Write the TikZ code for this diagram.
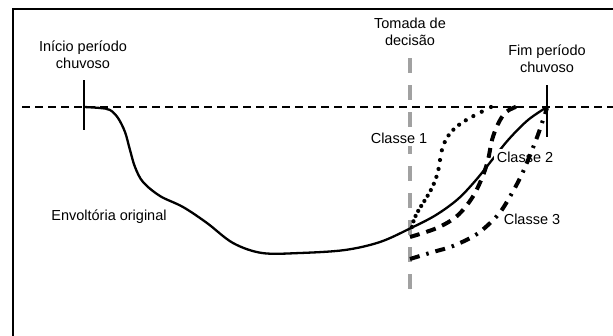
\documentclass[tikz,border=0pt]{standalone}
\usepackage{fontspec}
\setmainfont{Liberation Sans}
\begin{document}
\begin{tikzpicture}[x=1pt,y=-1pt,
  lbl/.style={font=\fontsize{14.5}{17}\selectfont, align=center, inner sep=1pt},
  lblw/.style={lbl, fill=white, inner sep=3pt},
  frameline/.style={line width=2.2pt},
  tick/.style={line width=1.8pt},
  level/.style={line width=1.7pt, dash pattern=on 8pt off 5pt},
  decision/.style={line width=3.2pt, draw=black!37, dash pattern=on 15pt off 12pt},
  envelope/.style={line width=2.3pt, smooth, tension=0.55},
  dotmark/.style={fill=black},
  classtwo/.style={line width=4pt, dash pattern=on 10pt off 7pt, smooth, tension=0.55},
  classthree/.style={line width=4pt, dash pattern=on 10pt off 7pt on 2.5pt off 7pt, smooth, tension=0.55}]
\useasboundingbox (0,0) rectangle (613,335);
% frame (only top and left visible)
\coordinate (fbl) at (13,336);
\coordinate (ftl) at (13,9);
\coordinate (ftr) at (614,9);
\draw[frameline] (fbl) -- (ftl) -- (ftr);
% level line
\coordinate (lvA) at (22,107);
\coordinate (lvB) at (613,107);
\draw[level] (lvA) -- (lvB);
% ticks
\coordinate (t1a) at (84,80);
\coordinate (t1b) at (84,130);
\coordinate (t2a) at (547,85);
\coordinate (t2b) at (547,137);
\draw[tick] (t1a) -- (t1b);
\draw[tick] (t2a) -- (t2b);
% decision line
\coordinate (dA) at (410,58);
\coordinate (dB) at (410,300);
\draw[decision] (dA) -- (dB);
% original envelope
\draw[envelope] plot coordinates {(84,107) (100,108) (110,110) (118,118) (125,132) (130,150) (135,167) (143,182) (160,196) (183,207) (207,223) (233,243) (262,253) (300,253) (345,250) (380,242) (411,228) (436,215) (458,199) (476,180) (492,160) (509,139) (528,120) (547,107)};
% labels with white background
\node[lblw] (c1) at (399,138) {Classe 1};
\node[lblw] (c2) at (525,157) {Classe 2};
\node[lblw] (c3) at (532,219) {Classe 3};
% class 1: dotted curve, drawn as dots
\coordinate (a0) at (412,227);
\coordinate (a1) at (416,205);
\coordinate (a2) at (436,195);
\coordinate (a3) at (440,160);
\coordinate (b1) at (444,128);
\coordinate (b2) at (462,122);
\coordinate (b3) at (491,107);
\foreach \i in {0,...,10} {
  \pgfmathsetmacro\pp{\i/11}
  \path (a0) .. controls (a1) and (a2) .. (a3) coordinate[pos=\pp] (da\i);
  \fill[dotmark] (da\i) circle (2.1pt);
}
\foreach \i in {0,...,9} {
  \pgfmathsetmacro\pp{\i/9}
  \path (a3) .. controls (b1) and (b2) .. (b3) coordinate[pos=\pp] (db\i);
  \fill[dotmark] (db\i) circle (2.1pt);
}
% class 2 and 3
\draw[classtwo] plot coordinates {(410,237) (437,228) (457,216) (472,198) (482,178) (488,160) (492,140) (498,124) (506,112) (518,106)};
\draw[classthree] plot coordinates {(410,259) (433,252) (453,246) (477,234) (497,216) (508,200) (522,174) (536,140) (543,120) (547,108)};
% other labels
\node[lbl] (inicio) at (83,55) {Início período\\chuvoso};
\node[lbl] (tomada) at (410,32) {Tomada de\\decisão};
\node[lbl] (fim) at (547,59) {Fim período\\chuvoso};
\node[lbl] (env) at (109,217) {Envoltória original};
\end{tikzpicture}
\end{document}
